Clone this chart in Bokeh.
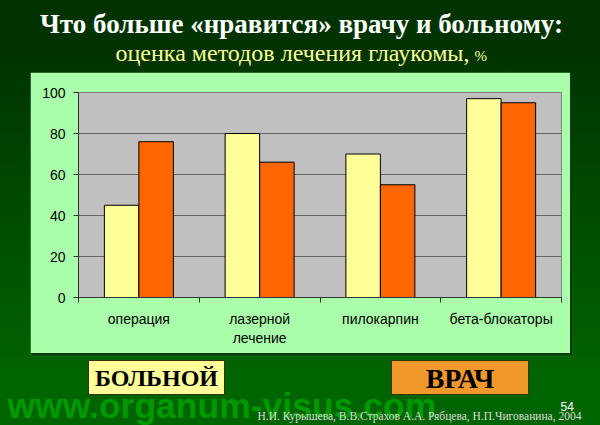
from bokeh.plotting import figure
from bokeh.layouts import column, row
from bokeh.models import Range1d, FixedTicker, Label, Spacer
from bokeh.embed import file_html
from bokeh.resources import INLINE
import numpy as np

# ---- data ----
categories = ["операция", "лазерной\nлечение", "пилокарпин", "бета-блокаторы"]
patient = [45, 80, 70, 97]   # БОЛЬНОЙ
doctor = [76, 66, 55, 95]    # ВРАЧ
y_ticks = [0, 20, 40, 60, 80, 100]
title_text = "Что больше «нравится» врачу и больному:"
subtitle_text = "оценка методов лечения глаукомы,"
legend_patient = "БОЛЬНОЙ"
legend_doctor = "ВРАЧ"
watermark = "www.organum-visus.com"
authors = "Н.И. Курышева, В.В.Страхов А.А. Рябцева, Н.П.Чигованина, 2004"
page_no = "54"

PATIENT_COLOR = "#FFFF99"
DOCTOR_COLOR = "#FF6600"


def blank_fig(w, h, y0, y1):
    f = figure(width=w, height=h, output_backend="svg", toolbar_location=None,
               x_range=Range1d(0, w), y_range=Range1d(y1, y0),
               min_border=0, min_border_left=0, min_border_right=0,
               min_border_top=0, min_border_bottom=0)
    f.axis.visible = False
    f.grid.visible = False
    f.outline_line_color = None
    f.border_fill_color = None
    f.background_fill_color = None
    return f


def lab(f, text, x, y, size, color, font="Liberation Serif", style="normal", align="left"):
    # y is the wanted baseline; compensate the renderer's baseline shift
    y_adj = y - 0.3 * size
    f.add_layout(Label(x=x, y=y_adj, text=text, text_font=font, text_font_size=f"{size}px",
                       text_color=color, text_font_style=style, text_align=align,
                       text_baseline="alphabetic"))


# ---- header ----
header = blank_fig(600, 72, 0, 72)
lab(header, title_text, 301, 32, 27, "white", style="bold", align="center")
lab(header, subtitle_text, 115, 59.5, 24, "#FFFF99")
lab(header, "%", 474, 59.5, 15, "#FFFF99")

# ---- chart ----
n = len(categories)
bw = 1 / 3.5
centers = np.arange(n) + 0.5

p = figure(width=540, height=281, output_backend="svg", toolbar_location=None,
           x_range=Range1d(0, n), y_range=Range1d(0, 100),
           min_border_left=48, min_border_right=9, min_border_top=20, min_border_bottom=56)
p.border_fill_color = "#AAFFAA"
p.background_fill_color = "#C0C0C0"
p.outline_line_color = "#808080"
p.styles = {"box-shadow": "2px 2px 0px #123a12"}

p.vbar(x=centers - bw / 2, top=patient, width=bw, bottom=0, fill_color=PATIENT_COLOR,
       line_color="black", line_width=1)
p.vbar(x=centers + bw / 2, top=doctor, width=bw, bottom=0, fill_color=DOCTOR_COLOR,
       line_color="black", line_width=1)

p.xgrid.visible = False
p.ygrid.ticker = FixedTicker(ticks=y_ticks[1:])
p.ygrid.grid_line_color = "#666666"
p.ygrid.grid_line_width = 1

p.yaxis.ticker = FixedTicker(ticks=y_ticks)
p.yaxis.major_tick_out = 5
p.yaxis.major_tick_in = 0
p.yaxis.minor_tick_line_color = None
p.yaxis.major_label_standoff = 8
p.yaxis.axis_line_color = "#333333"
p.yaxis.major_tick_line_color = "#333333"
p.yaxis.major_label_text_font = "Liberation Sans"
p.yaxis.major_label_text_font_size = "14px"
p.yaxis.major_label_text_color = "black"

p.xaxis.ticker = FixedTicker(ticks=list(centers), minor_ticks=list(range(n + 1)))
p.xaxis.major_label_overrides = {float(c): lab_ for c, lab_ in zip(centers, categories)}
p.xaxis.major_tick_line_color = None
p.xaxis.major_tick_out = 0
p.xaxis.major_tick_in = 0
p.xaxis.minor_tick_out = 5
p.xaxis.minor_tick_in = 0
p.xaxis.minor_tick_line_color = "#333333"
p.xaxis.axis_line_color = "#333333"
p.xaxis.major_label_standoff = 8
p.xaxis.major_label_text_font = "Liberation Sans"
p.xaxis.major_label_text_font_size = "14px"
p.xaxis.major_label_text_color = "black"

chart_row = row(Spacer(width=30, height=281), p, Spacer(width=30, height=281))

# ---- footer ----
footer = blank_fig(600, 72, 353, 425)
footer.quad(left=[88, 391], right=[224, 528], top=[360, 360], bottom=[394, 394],
            fill_color=[PATIENT_COLOR, "#F0992A"], line_color="#333300", line_width=1)
lab(footer, legend_patient, 156, 384.5, 24, "black", style="bold", align="center")
lab(footer, legend_doctor, 459.5, 386, 28, "black", style="bold", align="center")
lab(footer, watermark, 7, 416.5, 35.5, "#009900", font="Liberation Sans", style="bold")
lab(footer, authors, 257, 419, 11.5, "#DDDDDD")
lab(footer, page_no, 560, 410, 12, "white", font="Liberation Sans")

layout = column(header, chart_row, footer,
                styles={"background": "linear-gradient(to bottom, #003300 12%, #006400 88%)"})

open("out.html", "w").write(file_html(layout, INLINE))
